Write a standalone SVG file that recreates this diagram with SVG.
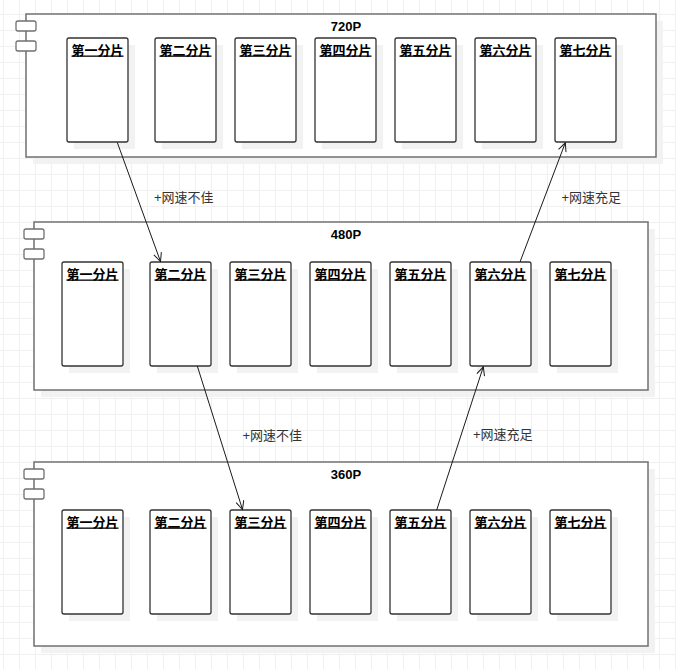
<svg xmlns="http://www.w3.org/2000/svg" width="676" height="669" viewBox="0 0 676 669">
<defs>
<pattern id="grid" width="16" height="16" patternUnits="userSpaceOnUse">
<path d="M3.5 0V16M0 14.5H16" fill="none" stroke="#f0f0f0" stroke-width="1"/>
</pattern>
<marker id="arr" markerWidth="10" markerHeight="10" refX="9" refY="4.5" orient="auto" markerUnits="userSpaceOnUse">
<path d="M0.5,0.5 L9,4.5 L0.5,8.5" fill="none" stroke="#1a1a1a" stroke-width="1"/>
</marker>
</defs>
<style>
.ct{fill:#fff;stroke:#707070;stroke-width:1.5}
.sh{fill:#f2f2f2;stroke:none}
.ic{fill:#fff;stroke:#707070;stroke-width:1.3}
.nd{fill:#fff;stroke:#333;stroke-width:1.3}
.tt{font-family:"Liberation Sans","Noto Sans CJK SC",sans-serif;font-size:13px;font-weight:bold;fill:#000;text-anchor:middle}
.nl{font-family:"Liberation Sans","Noto Sans CJK SC",sans-serif;font-size:13px;font-weight:bold;fill:#000;text-anchor:middle;text-decoration:underline}
.el{font-family:"Liberation Sans","Noto Sans CJK SC",sans-serif;font-size:13px;fill:#333}
.cn{fill:none;stroke:#1a1a1a;stroke-width:1}
</style>
<rect width="676" height="669" fill="#fff"/>
<rect width="676" height="669" fill="url(#grid)"/>

<g id="c720">
<rect class="sh" x="33" y="21" width="630" height="143"/>
<rect class="ct" x="26" y="14" width="630" height="143"/>
<rect class="ic" x="16" y="21" width="20" height="10" rx="2"/>
<rect class="ic" x="16" y="41" width="20" height="10" rx="2"/>
<text class="tt" x="346" y="31">720P</text>
</g>
<g id="c480">
<rect class="sh" x="41" y="229" width="614" height="168"/>
<rect class="ct" x="34" y="222" width="614" height="168"/>
<rect class="ic" x="24" y="229" width="20" height="10" rx="2"/>
<rect class="ic" x="24" y="249" width="20" height="10" rx="2"/>
<text class="tt" x="346" y="239">480P</text>
</g>
<g id="c360">
<rect class="sh" x="41" y="469" width="614" height="184"/>
<rect class="ct" x="34" y="462" width="614" height="184"/>
<rect class="ic" x="24" y="469" width="20" height="10" rx="2"/>
<rect class="ic" x="24" y="489" width="20" height="10" rx="2"/>
<text class="tt" x="346" y="479">360P</text>
</g>

<!-- 720P row -->
<g id="t1"><rect class="sh" x="74" y="45" width="61" height="104"/><rect class="nd" x="67" y="38" width="61" height="104" rx="2"/><text class="nl" x="97.5" y="54.5">第一分片</text></g>
<g id="t2"><rect class="sh" x="162" y="45" width="61" height="104"/><rect class="nd" x="155" y="38" width="61" height="104" rx="2"/><text class="nl" x="185.5" y="54.5">第二分片</text></g>
<g id="t3"><rect class="sh" x="242" y="45" width="61" height="104"/><rect class="nd" x="235" y="38" width="61" height="104" rx="2"/><text class="nl" x="265.5" y="54.5">第三分片</text></g>
<g id="t4"><rect class="sh" x="322" y="45" width="61" height="104"/><rect class="nd" x="315" y="38" width="61" height="104" rx="2"/><text class="nl" x="345.5" y="54.5">第四分片</text></g>
<g id="t5"><rect class="sh" x="402" y="45" width="61" height="104"/><rect class="nd" x="395" y="38" width="61" height="104" rx="2"/><text class="nl" x="425.5" y="54.5">第五分片</text></g>
<g id="t6"><rect class="sh" x="482" y="45" width="61" height="104"/><rect class="nd" x="475" y="38" width="61" height="104" rx="2"/><text class="nl" x="505.5" y="54.5">第六分片</text></g>
<g id="t7"><rect class="sh" x="562" y="45" width="61" height="104"/><rect class="nd" x="555" y="38" width="61" height="104" rx="2"/><text class="nl" x="585.5" y="54.5">第七分片</text></g>

<!-- 480P row -->
<g id="m1"><rect class="sh" x="69" y="269" width="61" height="104"/><rect class="nd" x="62" y="262" width="61" height="104" rx="2"/><text class="nl" x="92.5" y="278.5">第一分片</text></g>
<g id="m2"><rect class="sh" x="157" y="269" width="61" height="104"/><rect class="nd" x="150" y="262" width="61" height="104" rx="2"/><text class="nl" x="180.5" y="278.5">第二分片</text></g>
<g id="m3"><rect class="sh" x="237" y="269" width="61" height="104"/><rect class="nd" x="230" y="262" width="61" height="104" rx="2"/><text class="nl" x="260.5" y="278.5">第三分片</text></g>
<g id="m4"><rect class="sh" x="317" y="269" width="61" height="104"/><rect class="nd" x="310" y="262" width="61" height="104" rx="2"/><text class="nl" x="340.5" y="278.5">第四分片</text></g>
<g id="m5"><rect class="sh" x="397" y="269" width="61" height="104"/><rect class="nd" x="390" y="262" width="61" height="104" rx="2"/><text class="nl" x="420.5" y="278.5">第五分片</text></g>
<g id="m6"><rect class="sh" x="477" y="269" width="61" height="104"/><rect class="nd" x="470" y="262" width="61" height="104" rx="2"/><text class="nl" x="500.5" y="278.5">第六分片</text></g>
<g id="m7"><rect class="sh" x="557" y="269" width="61" height="104"/><rect class="nd" x="550" y="262" width="61" height="104" rx="2"/><text class="nl" x="580.5" y="278.5">第七分片</text></g>

<!-- 360P row -->
<g id="b1"><rect class="sh" x="69" y="517" width="61" height="104"/><rect class="nd" x="62" y="510" width="61" height="104" rx="2"/><text class="nl" x="92.5" y="526.5">第一分片</text></g>
<g id="b2"><rect class="sh" x="157" y="517" width="61" height="104"/><rect class="nd" x="150" y="510" width="61" height="104" rx="2"/><text class="nl" x="180.5" y="526.5">第二分片</text></g>
<g id="b3"><rect class="sh" x="237" y="517" width="61" height="104"/><rect class="nd" x="230" y="510" width="61" height="104" rx="2"/><text class="nl" x="260.5" y="526.5">第三分片</text></g>
<g id="b4"><rect class="sh" x="317" y="517" width="61" height="104"/><rect class="nd" x="310" y="510" width="61" height="104" rx="2"/><text class="nl" x="340.5" y="526.5">第四分片</text></g>
<g id="b5"><rect class="sh" x="397" y="517" width="61" height="104"/><rect class="nd" x="390" y="510" width="61" height="104" rx="2"/><text class="nl" x="420.5" y="526.5">第五分片</text></g>
<g id="b6"><rect class="sh" x="477" y="517" width="61" height="104"/><rect class="nd" x="470" y="510" width="61" height="104" rx="2"/><text class="nl" x="500.5" y="526.5">第六分片</text></g>
<g id="b7"><rect class="sh" x="557" y="517" width="61" height="104"/><rect class="nd" x="550" y="510" width="61" height="104" rx="2"/><text class="nl" x="580.5" y="526.5">第七分片</text></g>

<g id="connectors">
<line class="cn" x1="117.3" y1="142.5" x2="160.5" y2="261.5" marker-end="url(#arr)"/>
<line class="cn" x1="520" y1="262" x2="565.3" y2="142.8" marker-end="url(#arr)"/>
<line class="cn" x1="197.3" y1="366" x2="242.5" y2="509.5" marker-end="url(#arr)"/>
<line class="cn" x1="436.7" y1="510" x2="483.3" y2="366.8" marker-end="url(#arr)"/>
<text class="el" x="154" y="202">+网速不佳</text>
<text class="el" x="561.5" y="201.5">+网速充足</text>
<text class="el" x="242.5" y="439.5">+网速不佳</text>
<text class="el" x="473" y="439">+网速充足</text>
</g>
</svg>
